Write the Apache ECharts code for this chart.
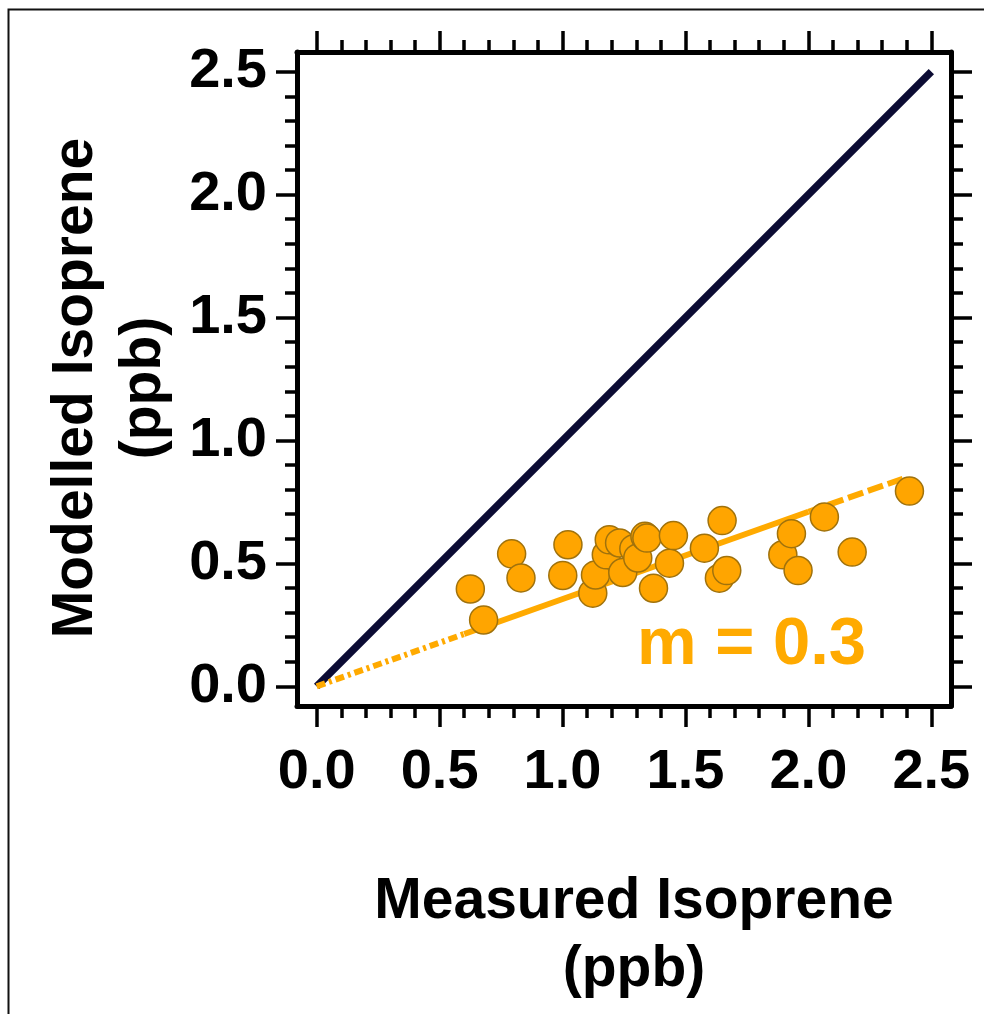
<!DOCTYPE html>
<html>
<head>
<meta charset="utf-8">
<script src="https://cdn.jsdelivr.net/npm/echarts@6/dist/echarts.min.js"></script>
<style>
  html, body { margin: 0; padding: 0; background: #fff; }
  #main { width: 984px; height: 1014px; }
</style>
</head>
<body>
<div id="main"></div>
<script>
    // 数据
    var measured = [0.625, 0.679, 0.793, 0.831, 1.022, 1.001, 1.123, 1.134, 1.178, 1.19, 1.232, 1.245,
                    1.29, 1.306, 1.335, 1.343, 1.370, 1.435, 1.451, 1.577, 1.649, 1.638, 1.668,
                    1.896, 1.931, 1.958, 2.065, 2.178, 2.411];
    var modelled = [0.396, 0.270, 0.539, 0.441, 0.576, 0.451, 0.379, 0.453, 0.535, 0.596, 0.583, 0.463,
                    0.56, 0.522, 0.61, 0.603, 0.399, 0.501, 0.613, 0.562, 0.674, 0.440, 0.471,
                    0.535, 0.621, 0.471, 0.689, 0.546, 0.794];
    var oneToOneX = [0, 2.5];
    var oneToOneY = [0, 2.5];
    var fitX = [0, 0.6, 2.0, 2.4];   // 拟合线: 点划 / 实线 / 虚线
    var fitY = [0, 0.213, 0.71, 0.85];
    var majorTicks = [0, 0.5, 1.0, 1.5, 2.0, 2.5];
    var minorTicks = [0.1, 0.2, 0.3, 0.4, 0.6, 0.7, 0.8, 0.9, 1.1, 1.2, 1.3, 1.4,
                      1.6, 1.7, 1.8, 1.9, 2.1, 2.2, 2.3, 2.4];
    var axisMin = -0.08, axisMax = 2.58;

    function pairs(xs, ys, a, b) {
        var out = [];
        for (var i = a; i <= b; i++) out.push([xs[i], ys[i]]);
        return out;
    }

    var myChart = echarts.init(document.getElementById('main'));
    var fontFam = '"Liberation Sans", Arial, sans-serif';
    var orange = '#FFA500';

    function makeAxis(pos, major, withLabel, name) {
        var ax = {
            type: 'value',
            position: pos,
            min: axisMin,
            max: axisMax,
            splitLine: { show: false },
            axisLine: { show: major, onZero: false, lineStyle: { color: '#000', width: 5 } },
            axisTick: {
                show: true,
                inside: false,
                length: major ? 21 : 12,
                customValues: major ? majorTicks : minorTicks,
                lineStyle: { color: '#000', width: 3.5 }
            },
            axisLabel: { show: false }
        };
        if (withLabel) {
            ax.axisLabel = {
                show: true,
                customValues: majorTicks,
                formatter: function (v) { return v.toFixed(1); },
                color: '#000',
                fontSize: 56,
                fontWeight: 'bold',
                fontFamily: fontFam,
                margin: (pos === 'bottom') ? 39 : 30
            };
            ax.name = name;
            ax.nameLocation = 'middle';
            ax.nameTextStyle = {
                color: '#000',
                fontSize: 57,
                fontWeight: 'bold',
                fontFamily: fontFam,
                lineHeight: 68,
                // 轻微偏移, 与原图居中位置一致
                padding: (pos === 'bottom') ? [0, 0, 0, 20] : [0, 18, 0, 0]
            };
            ax.nameGap = (pos === 'bottom') ? 162 : 100;
        }
        return ax;
    }

    var option = {
        animation: false,
        backgroundColor: '#fff',
        grid: { left: 297, right: 33, top: 52, bottom: 308, containLabel: false },
        xAxis: [
            makeAxis('bottom', true, true, 'Measured Isoprene\n(ppb)'),
            makeAxis('bottom', false, false),
            makeAxis('top', true, false),
            makeAxis('top', false, false)
        ],
        yAxis: [
            makeAxis('left', true, true, 'Modelled Isoprene\n(ppb)'),
            makeAxis('left', false, false),
            makeAxis('right', true, false),
            makeAxis('right', false, false)
        ],
        graphic: [
            {
                type: 'rect',
                shape: { x: 8.5, y: 9.5, width: 1100, height: 1100 },
                style: { fill: 'none', stroke: '#111', lineWidth: 2 },
                silent: true
            },
            {
                type: 'text',
                left: 637,
                top: 612,
                style: {
                    text: 'm = 0.3',
                    fill: '#FFAA00',
                    fontSize: 67,
                    fontWeight: 'bold',
                    fontFamily: fontFam
                },
                z: 10
            }
        ],
        series: [
            {
                name: '1:1',
                type: 'line',
                data: pairs(oneToOneX, oneToOneY, 0, 1),
                symbol: 'none',
                z: 2,
                lineStyle: { color: '#0B0B33', width: 7.5, cap: 'butt' }
            },
            {
                name: 'fit-dashdot',
                type: 'line',
                data: pairs(fitX, fitY, 0, 1),
                symbol: 'none',
                z: 3,
                lineStyle: { color: '#FFAA00', width: 6, type: [9, 4, 3, 4], cap: 'butt' }
            },
            {
                name: 'fit',
                type: 'line',
                data: pairs(fitX, fitY, 1, 2),
                symbol: 'none',
                z: 3,
                lineStyle: { color: '#FFAA00', width: 6, cap: 'butt' }
            },
            {
                name: 'fit-dash',
                type: 'line',
                data: pairs(fitX, fitY, 2, 3),
                symbol: 'none',
                z: 3,
                lineStyle: { color: '#FFAA00', width: 6, type: [16, 5], cap: 'butt' }
            },
            {
                name: 'data',
                type: 'scatter',
                data: pairs(measured, modelled, 0, measured.length - 1),
                symbol: 'circle',
                symbolSize: 28,
                z: 4,
                itemStyle: { color: orange, borderColor: '#A0720C', borderWidth: 1.5, opacity: 1 }
            }
        ]
    };

    myChart.setOption(option);
    window.addEventListener("resize", function() {
        myChart.resize();
    });
</script>
</body>
</html>
